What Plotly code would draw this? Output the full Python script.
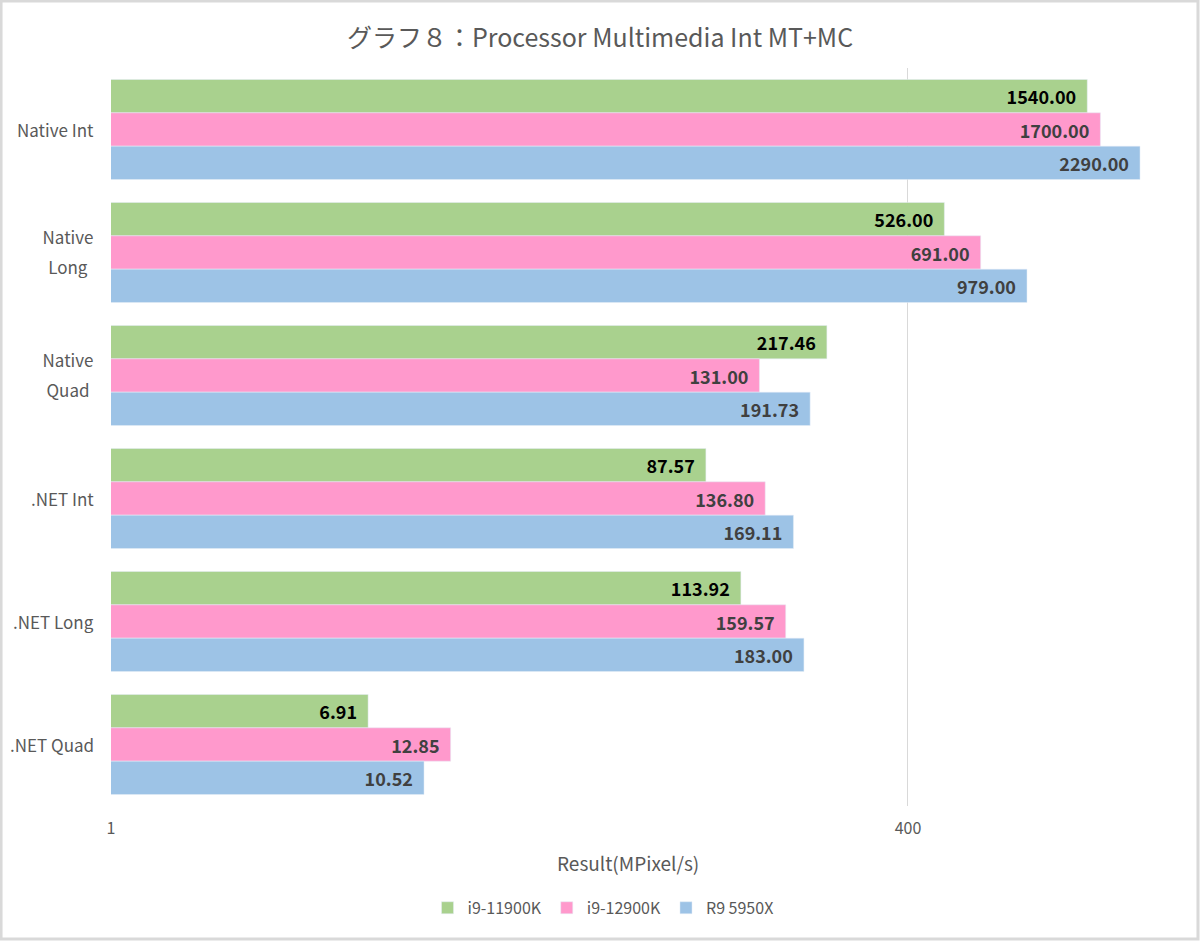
import plotly.graph_objects as go

categories = ["Native Int", "Native\nLong", "Native\nQuad", ".NET Int", ".NET Long", ".NET Quad"]
i9_11900k = [1540.00, 526.00, 217.46, 87.57, 113.92, 6.91]
i9_12900k = [1700.00, 691.00, 131.00, 136.80, 159.57, 12.85]
r9_5950x = [2290.00, 979.00, 191.73, 169.11, 183.00, 10.52]
tick_vals = [1, 400]

FONT = "Noto Sans CJK JP"
GRAY = "#595959"

series = [
    ("i9-11900K", i9_11900k, "#A9D18E", "#000000"),
    ("i9-12900K", i9_12900k, "#FF99CC", "#404040"),
    ("R9 5950X", r9_5950x, "#9DC3E6", "#404040"),
]

fig = go.Figure()
for name, vals, color, tcolor in series:
    fig.add_trace(go.Bar(
        y=categories,
        x=vals,
        name=name,
        orientation="h",
        marker_color=color,
        text=[f"<b>{v:.2f}</b>\u00a0\u00a0" for v in vals],
        textposition="inside",
        insidetextanchor="end",
        textangle=0,
        textfont=dict(family=FONT, size=18, color=tcolor),
    ))

# category labels drawn as annotations so two-line labels get Excel-like spacing
for cat in categories:
    lines = cat.split("\n")
    if len(lines) == 1:
        fig.add_annotation(text=cat, xref="paper", yref="y", x=-0.0139, y=cat, xanchor="right",
                           showarrow=False, font=dict(size=17, color=GRAY))
    else:
        for k, ln in enumerate(lines):
            fig.add_annotation(text=ln, xref="paper", yref="y", x=-0.0139, y=cat, xanchor="right",
                               width=52, align="center", yshift=16 - 30 * k,
                               showarrow=False, font=dict(size=17, color=GRAY))

fig.update_layout(
    width=1200, height=941,
    paper_bgcolor="white", plot_bgcolor="white",
    barmode="group", bargap=0.187, bargroupgap=0,
    margin=dict(l=111, r=10, t=68, b=135, autoexpand=False),
    font=dict(family=FONT, color=GRAY),
    title=dict(text="グラフ８：Processor Multimedia Int MT+MC", x=0.5, xanchor="center",
               y=1 - 38 / 941, yanchor="middle", font=dict(size=25, color=GRAY, family=FONT)),
    legend=dict(orientation="h", x=0.456, xanchor="center", y=-0.138, yanchor="middle",
                font=dict(size=16, color=GRAY), traceorder="normal"),
    uniformtext=dict(minsize=10, mode="show"),
)
fig.update_xaxes(type="log", range=[0, 3.523], tickvals=tick_vals, ticktext=[str(t) for t in tick_vals],
                 showgrid=True, gridcolor="#D9D9D9", gridwidth=1, zeroline=False, showline=False,
                 tickfont=dict(size=16, color=GRAY), ticks="", ticklabelstandoff=11)
fig.update_yaxes(autorange="reversed", showline=False, ticks="", showgrid=False,
                 showticklabels=False)
fig.add_annotation(text="Result(MPixel/s)", xref="paper", yref="paper", x=0.479, y=-0.076,
                   yanchor="middle", showarrow=False, font=dict(size=19, color=GRAY))
fig.add_shape(type="rect", xref="paper", yref="paper", x0=-0.1019, x1=1.0074, y0=-0.1802, y1=1.0908,
              line=dict(color="#D9D9D9", width=3))
fig.write_html("out.html", config={"displayModeBar": False},
               post_script="document.body.style.margin='0';")
